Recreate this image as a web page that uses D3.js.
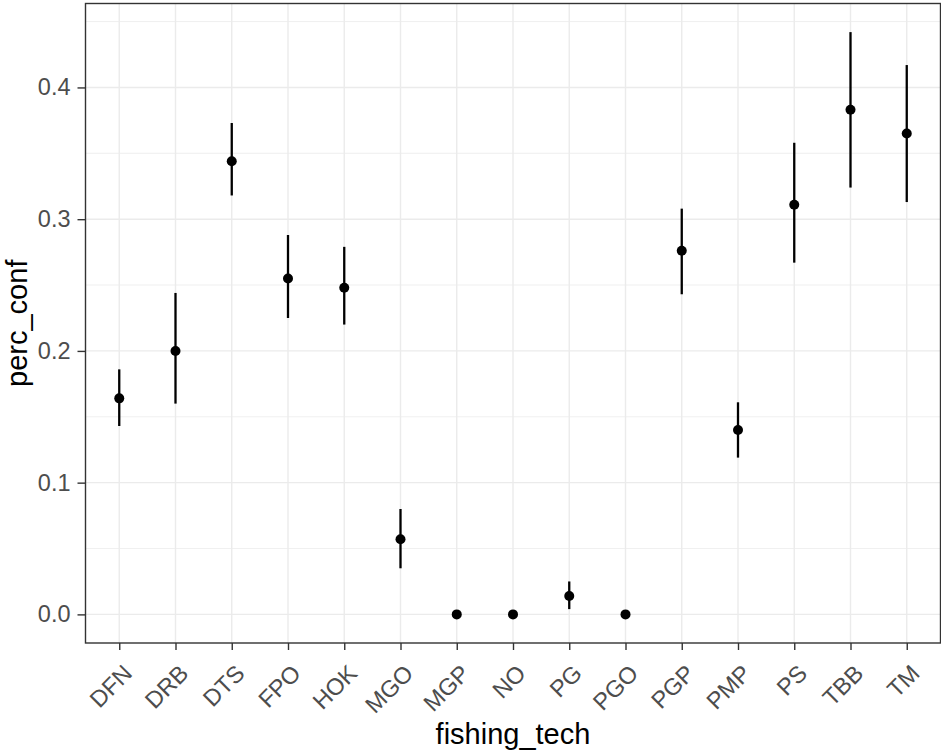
<!DOCTYPE html>
<html>
<head>
<meta charset="utf-8">
<script src="https://cdn.jsdelivr.net/npm/d3@7"></script>
<style>
  html, body { margin: 0; padding: 0; background: #fff; }
  svg { display: block; font-family: "Liberation Sans", Arial, sans-serif; }
</style>
</head>
<body>
<svg id="chart" width="941" height="751"></svg>
<script>
const categories = ["DFN","DRB","DTS","FPO","HOK","MGO","MGP","NO","PG","PGO","PGP","PMP","PS","TBB","TM"];
const percConf  = [0.164,0.200,0.344,0.255,0.248,0.057,0,0,0.014,0,0.276,0.140,0.311,0.383,0.365];
const lowerConf = [0.143,0.160,0.318,0.225,0.220,0.035,0,0,0.004,0,0.243,0.119,0.267,0.324,0.313];
const upperConf = [0.186,0.244,0.373,0.288,0.279,0.080,0,0,0.025,0,0.308,0.161,0.358,0.442,0.417];
const yTicks = [0, 0.1, 0.2, 0.3, 0.4];
const yMinor = [0.05, 0.15, 0.25, 0.35, 0.45];
const xTitle = "fishing_tech";
const yTitle = "perc_conf";

const data = categories.map((c, i) => ({ cat: c, y: percConf[i], lo: lowerConf[i], hi: upperConf[i] }));

const panel = { left: 85.5, right: 940.5, top: 3.5, bottom: 643 };
const svg = d3.select("#chart");

const x = d3.scalePoint().domain(categories).range([panel.left, panel.right]).padding(0.6);
const lo = d3.min(lowerConf), hi = d3.max(upperConf);
const pad = (hi - lo) * 0.05;
const y = d3.scaleLinear().domain([lo - pad, hi + pad]).range([panel.bottom + 0.5, panel.top - 0.5]);

svg.append("rect").attr("x", panel.left).attr("y", panel.top)
  .attr("width", panel.right - panel.left).attr("height", panel.bottom - panel.top)
  .attr("fill", "#fff");

const grid = svg.append("g");
grid.selectAll(".ymin").data(yMinor.filter(v => y(v) > panel.top && y(v) < panel.bottom)).enter().append("line")
  .attr("x1", panel.left).attr("x2", panel.right)
  .attr("y1", d => y(d)).attr("y2", d => y(d))
  .attr("stroke", "#EBEBEB").attr("stroke-width", 0.8);
grid.selectAll(".ymaj").data(yTicks).enter().append("line")
  .attr("x1", panel.left).attr("x2", panel.right)
  .attr("y1", d => y(d)).attr("y2", d => y(d))
  .attr("stroke", "#EBEBEB").attr("stroke-width", 1.4);
grid.selectAll(".xmaj").data(categories).enter().append("line")
  .attr("x1", d => x(d)).attr("x2", d => x(d))
  .attr("y1", panel.top).attr("y2", panel.bottom)
  .attr("stroke", "#EBEBEB").attr("stroke-width", 1.4);

svg.append("g").selectAll("line").data(data).enter().append("line")
  .attr("x1", d => x(d.cat)).attr("x2", d => x(d.cat))
  .attr("y1", d => y(d.lo)).attr("y2", d => y(d.hi))
  .attr("stroke", "#000").attr("stroke-width", 2.3);

svg.append("g").selectAll("circle").data(data).enter().append("circle")
  .attr("cx", d => x(d.cat)).attr("cy", d => y(d.y)).attr("r", 5)
  .attr("fill", "#000");

svg.append("rect").attr("x", panel.left).attr("y", panel.top)
  .attr("width", panel.right - panel.left).attr("height", panel.bottom - panel.top)
  .attr("fill", "none").attr("stroke", "#333333").attr("stroke-width", 1.4);

const yAxis = svg.append("g").attr("transform", `translate(${panel.left},0)`)
  .call(d3.axisLeft(y).tickValues(yTicks).tickFormat(d3.format(".1f")).tickSize(8).tickPadding(7));
yAxis.select(".domain").remove();
yAxis.selectAll(".tick line").attr("stroke", "#333333").attr("stroke-width", 1.4);
yAxis.selectAll(".tick text").attr("fill", "#4D4D4D").style("font-size", "23.5px")
  .style("font-family", '"Liberation Sans", Arial, sans-serif');

const xAxis = svg.append("g").attr("transform", `translate(0,${panel.bottom})`)
  .call(d3.axisBottom(x).tickSize(7).tickPadding(4));
xAxis.select(".domain").remove();
xAxis.selectAll(".tick line").attr("stroke", "#333333").attr("stroke-width", 1.4);
xAxis.selectAll(".tick text").attr("fill", "#4D4D4D").style("font-size", "23.5px")
  .style("font-family", '"Liberation Sans", Arial, sans-serif')
  .attr("text-anchor", "end")
  .attr("transform", "translate(2,20) rotate(-45)")
  .attr("y", 0).attr("x", 0).attr("dy", "0.71em");

svg.append("text").attr("x", (panel.left + panel.right) / 2).attr("y", 744)
  .attr("text-anchor", "middle").attr("fill", "#000").style("font-size", "29px").text(xTitle);
svg.append("text").attr("transform", `translate(27,${(panel.top + panel.bottom) / 2}) rotate(-90)`)
  .attr("text-anchor", "middle").attr("fill", "#000").style("font-size", "29px").text(yTitle);
</script>
</body>
</html>
